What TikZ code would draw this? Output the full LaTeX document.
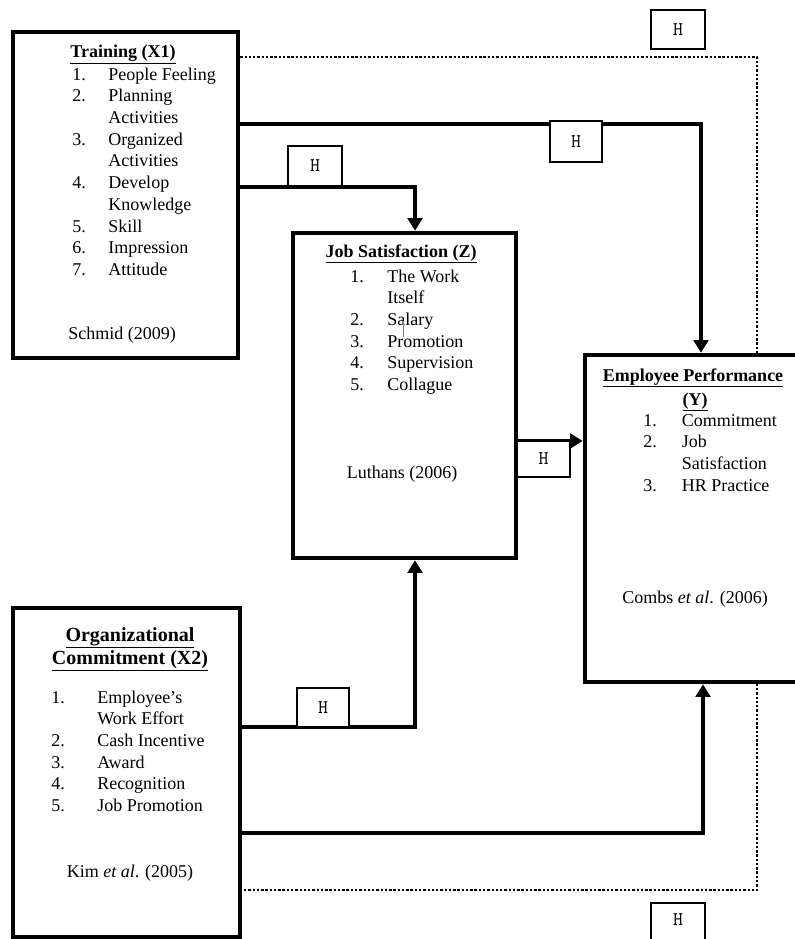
\documentclass[tikz,border=0pt]{standalone}
\usepackage{fontspec}
\setmainfont{Liberation Serif}
\usetikzlibrary{arrows.meta,fit,backgrounds}
\begin{document}
\begin{tikzpicture}[x=0.75pt,y=-0.75pt,
  box/.style={draw,line width=3.4pt,fill=white,inner sep=0pt},
  conn/.style={line width=3pt,line join=miter},
  arr/.style={conn,-{Triangle[length=9.5pt,width=11pt]}},
  hbox/.style={draw,line width=2pt,fill=white,inner sep=0pt},
  hlbl/.style={inner sep=0pt,font=\ttfamily\fontsize{14.5}{15}\selectfont},
  dots/.style={line width=2pt,dash pattern=on 1.8pt off 1.4pt},
  body/.style={font=\fontsize{13.5}{16.3}\selectfont,inner sep=0pt},
  ttl/.style={font=\bfseries\fontsize{13.5}{16.3}\selectfont,inner sep=0pt,anchor=base},
  ttlbig/.style={font=\bfseries\fontsize{15}{18}\selectfont,inner sep=0pt,anchor=base}]
\useasboundingbox (0,0) rectangle (794,939);

% boxes
\node[box,fit={(13,32) (238,358)}] (train) {};
\node[box,fit={(293,233) (516,558)}] (js) {};
\node[box,fit={(585,355) (805,682)}] (ep) {};
\node[box,fit={(13,608) (240,937)}] (oc) {};

% Training text
\node[ttl] (trt) at (123,57) {\underline{Training (X1)}};
\node[body,anchor=base west] (trl) at (72,80) {\begin{tabular}[t]{@{}p{27pt}@{}l@{}}
1. & People Feeling\\
2. & Planning\\
   & Activities\\
3. & Organized\\
   & Activities\\
4. & Develop\\
   & Knowledge\\
5. & Skill\\
6. & Impression\\
7. & Attitude
\end{tabular}};
\node[body,anchor=base west] (trs) at (68,339) {Schmid (2009)};

% Job satisfaction text
\node[ttl] (jst) at (401,257) {\underline{Job Satisfaction (Z)}};
\node[body,anchor=base west] (jsl) at (350,282) {\begin{tabular}[t]{@{}p{27.75pt}@{}l@{}}
1. & The Work\\
   & Itself\\
2. & Salary\\
3. & Promotion\\
4. & Supervision\\
5. & Collague
\end{tabular}};
\node[body,anchor=base] (jss) at (402,478) {Luthans (2006)};
\draw[line width=0.4pt,gray] (403,321) -- (403,337);

% Employee performance text
\node[ttl] (ept1) at (693,381) {\underline{Employee Performance}};
\node[ttl] (ept2) at (695,405) {\underline{(Y)}};
\node[body,anchor=base west] (epl) at (643,426) {\begin{tabular}[t]{@{}p{29pt}@{}l@{}}
1. & Commitment\\
2. & Job\\
   & Satisfaction\\
3. & HR Practice
\end{tabular}};
\node[body,anchor=base] (eps) at (695,603) {Combs \textit{et al}. (2006)};

% Organizational commitment text
\node[ttlbig] (oct1) at (130,641) {\underline{Organizational}};
\node[ttlbig] (oct2) at (130,664) {\underline{Commitment (X2)}};
\node[body,anchor=base west] (ocl) at (51,703) {\begin{tabular}[t]{@{}p{34.5pt}@{}l@{}}
1. & Employee’s\\
   & Work Effort\\
2. & Cash Incentive\\
3. & Award\\
4. & Recognition\\
5. & Job Promotion
\end{tabular}};
\node[body,anchor=base] (ocs) at (130,877) {Kim \textit{et al}. (2005)};

% turning points
\coordinate (k1) at (701,124);
\coordinate (k2) at (415,187);
\coordinate (k3) at (0,441);
\coordinate (k4) at (415,727);
\coordinate (k5) at (703,833);
\coordinate (d1) at (757,57);
\coordinate (d2) at (757,890);

% dotted connector behind boxes
\begin{pgfonlayer}{background}
\draw[dots] (train.east |- d1) -- (d1) -- (d2) -- (oc.east |- d2);
\end{pgfonlayer}

% connectors
\draw[arr] (train.east |- k1) -- (k1) -- (k1 |- ep.north);
\draw[arr] (train.east |- k2) -- (k2) -- (k2 |- js.north);
\draw[arr] (js.east |- k3) -- (ep.west |- k3);
\draw[arr] (oc.east |- k4) -- (k4) -- (k4 |- js.south);
\draw[arr] (oc.east |- k5) -- (k5) -- (k5 |- ep.south);

% H labels
\node[hbox,fit={(651,10) (705,49)}] (htop) {};
\node[hbox,fit={(550,121) (602,162)}] (h1) {};
\node[hbox,fit={(288,146) (342,186)}] (h2) {};
\node[hbox,fit={(517,441) (570,477)}] (h3) {};
\node[hbox,fit={(297,688) (349,727)}] (h4) {};
\node[hbox,fit={(651,903) (705,942)}] (hbot) {};
\node[hlbl] (htopt) at (htop.center) {H};
\node[hlbl] (h1t) at (h1.center) {H};
\node[hlbl] (h2t) at (h2.center) {H};
\node[hlbl] (h3t) at (h3.center) {H};
\node[hlbl] (h4t) at (h4.center) {H};
\node[hlbl] (hbott) at ([yshift=2pt]hbot.center) {H};
\end{tikzpicture}
\end{document}
